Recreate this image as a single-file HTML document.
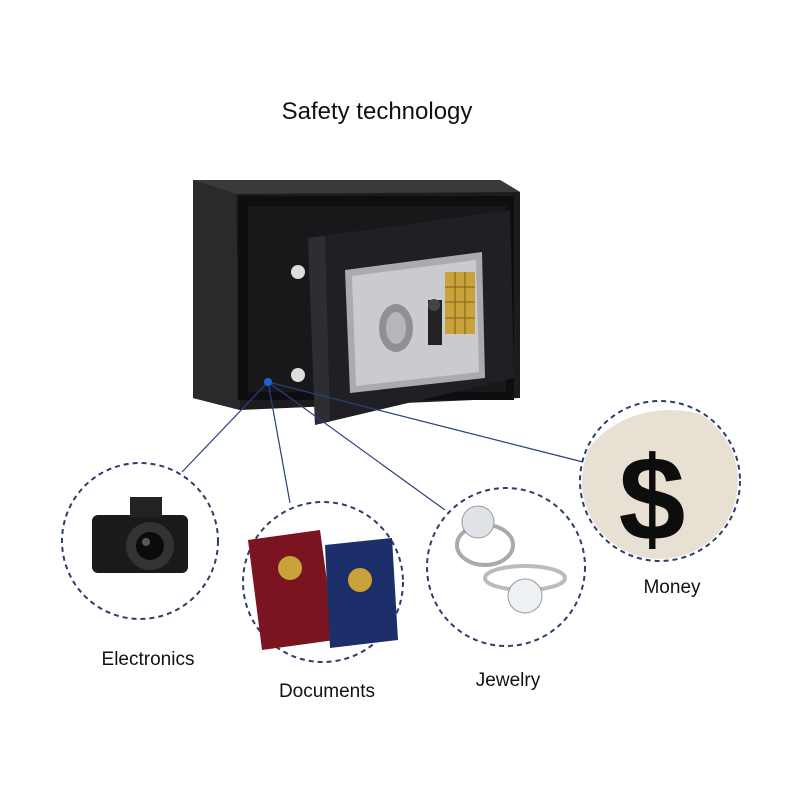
<!DOCTYPE html>
<html><head><meta charset="utf-8"><style>
html,body{margin:0;padding:0;background:#fff}
svg text{font-family:"Liberation Sans",sans-serif;fill:#111}
</style></head><body>
<svg width="800" height="800" viewBox="0 0 800 800" xmlns="http://www.w3.org/2000/svg">
<rect width="800" height="800" fill="#fff"/>
<text x="377" y="119" font-size="24" text-anchor="middle">Safety technology</text>

<!-- safe body -->
<polygon points="193,180 500,180 520,192 520,398 240,410 193,398" fill="#1c1c1e"/>
<polygon points="193,180 500,180 520,192 236,194" fill="#3a3a3d"/>
<polygon points="193,180 236,194 240,410 193,398" fill="#2a2a2c"/>
<rect x="238" y="196" width="276" height="204" fill="#0e0e10"/>
<rect x="248" y="206" width="258" height="186" fill="#18181a"/>
<!-- hinges -->
<circle cx="298" cy="272" r="7" fill="#ddd"/>
<circle cx="298" cy="375" r="7" fill="#ddd"/>
<!-- door -->
<polygon points="308,238 510,210 514,378 315,425" fill="#202024"/>
<polygon points="308,238 325,236 330,420 315,425" fill="#2e2e32"/>
<!-- panel -->
<polygon points="345,270 482,252 485,378 350,393" fill="#a9abae"/>
<polygon points="352,276 476,260 479,372 356,386" fill="#c9cbce"/>
<ellipse cx="396" cy="328" rx="17" ry="24" fill="#8e9094"/>
<ellipse cx="396" cy="328" rx="10" ry="16" fill="#b5b7ba"/>
<rect x="445" y="272" width="30" height="62" fill="#caa23a"/>
<g stroke="#7a6318" stroke-width="1">
<line x1="455" y1="272" x2="455" y2="334"/><line x1="465" y1="272" x2="465" y2="334"/>
<line x1="445" y1="287" x2="475" y2="287"/><line x1="445" y1="302" x2="475" y2="302"/><line x1="445" y1="318" x2="475" y2="318"/>
</g>
<rect x="428" y="300" width="14" height="45" fill="#222"/>
<circle cx="434" cy="305" r="6" fill="#444"/>

<!-- connectors -->
<g stroke="#2a3f7a" stroke-width="1.2" fill="none">
<line x1="268" y1="382" x2="182" y2="472"/>
<line x1="268" y1="382" x2="290" y2="503"/>
<line x1="268" y1="382" x2="445" y2="510"/>
<line x1="268" y1="382" x2="583" y2="462"/>
</g>
<circle cx="268" cy="382" r="4" fill="#1e64d8"/>

<!-- circles -->
<g fill="none" stroke="#2c3e6a" stroke-width="2" stroke-dasharray="5,4">
<circle cx="140" cy="541" r="78"/>
<circle cx="323" cy="582" r="80"/>
<circle cx="506" cy="567" r="79"/>
<circle cx="660" cy="481" r="80"/>
</g>

<!-- camera -->
<rect x="92" y="515" width="96" height="58" rx="6" fill="#1a1a1a"/>
<rect x="130" y="497" width="32" height="20" fill="#222"/>
<circle cx="150" cy="546" r="24" fill="#333"/>
<circle cx="150" cy="546" r="14" fill="#0b0b0b"/>
<circle cx="146" cy="542" r="4" fill="#556"/>
<!-- passports -->
<polygon points="248,540 320,530 335,640 262,650" fill="#7a1420"/>
<circle cx="290" cy="568" r="12" fill="#c9a23a"/>
<polygon points="325,545 392,538 398,640 330,648" fill="#1d2f6a"/>
<circle cx="360" cy="580" r="12" fill="#c9a23a"/>
<!-- rings -->
<ellipse cx="485" cy="545" rx="28" ry="20" fill="none" stroke="#aaa" stroke-width="4"/>
<circle cx="478" cy="522" r="16" fill="#dfe3e8" stroke="#999"/>
<ellipse cx="525" cy="578" rx="40" ry="12" fill="none" stroke="#bbb" stroke-width="4"/>
<circle cx="525" cy="596" r="17" fill="#eef1f4" stroke="#999"/>
<!-- money bag -->
<clipPath id="mc"><circle cx="660" cy="481" r="78"/></clipPath>
<g clip-path="url(#mc)">
<ellipse cx="670" cy="490" rx="95" ry="80" fill="#e8e1d3"/>
<text x="652" y="540" font-size="120" font-weight="bold" text-anchor="middle" style="fill:#0d0d0d">$</text>
</g>

<!-- labels -->
<text x="148" y="665" font-size="19" text-anchor="middle">Electronics</text>
<text x="327" y="697" font-size="19" text-anchor="middle">Documents</text>
<text x="508" y="686" font-size="19" text-anchor="middle">Jewelry</text>
<text x="672" y="593" font-size="19" text-anchor="middle">Money</text>
</svg>
</body></html>
